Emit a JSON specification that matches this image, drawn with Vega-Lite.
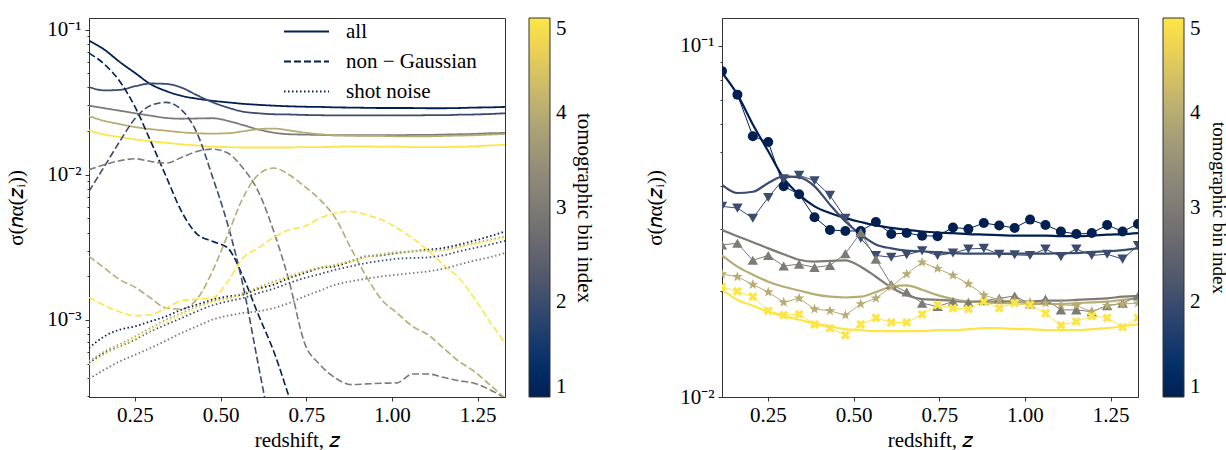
{
"$schema": "https://vega.github.io/schema/vega-lite/v6.json",
"background": "white",
"padding": {"left": 5, "top": 17, "right": 5, "bottom": 5},
"config": {
  "font": "Liberation Serif",
  "view": {"stroke": "#333", "strokeWidth": 1},
  "axis": {"labelFont": "Liberation Serif", "labelFontSize": 21, "titleFont": "Liberation Serif", "titleFontSize": 21, "titleFontWeight": "normal", "labelColor": "#000", "titleColor": "#000", "domainColor": "#333", "tickColor": "#333", "grid": false},
  "legend": {"labelFont": "Liberation Serif", "titleFont": "Liberation Serif", "labelColor": "#000", "titleColor": "#000"}
},
"datasets": {
"all": [
{"z":0.116,"s":0.0838,"b":1,"t":"all"},{"z":0.161,"s":0.0726,"b":1,"t":"all"},{"z":0.206,"s":0.0597,"b":1,"t":"all"},{"z":0.251,"s":0.0501,"b":1,"t":"all"},{"z":0.296,"s":0.0420,"b":1,"t":"all"},{"z":0.341,"s":0.0377,"b":1,"t":"all"},{"z":0.386,"s":0.0349,"b":1,"t":"all"},{"z":0.431,"s":0.0334,"b":1,"t":"all"},{"z":0.476,"s":0.0323,"b":1,"t":"all"},{"z":0.521,"s":0.0315,"b":1,"t":"all"},{"z":0.565,"s":0.0308,"b":1,"t":"all"},{"z":0.610,"s":0.0303,"b":1,"t":"all"},{"z":0.655,"s":0.0299,"b":1,"t":"all"},{"z":0.700,"s":0.0296,"b":1,"t":"all"},{"z":0.745,"s":0.0294,"b":1,"t":"all"},{"z":0.790,"s":0.0293,"b":1,"t":"all"},{"z":0.835,"s":0.0291,"b":1,"t":"all"},{"z":0.880,"s":0.0290,"b":1,"t":"all"},{"z":0.925,"s":0.0289,"b":1,"t":"all"},{"z":0.970,"s":0.0288,"b":1,"t":"all"},{"z":1.015,"s":0.0288,"b":1,"t":"all"},{"z":1.060,"s":0.0288,"b":1,"t":"all"},{"z":1.105,"s":0.0287,"b":1,"t":"all"},{"z":1.150,"s":0.0287,"b":1,"t":"all"},{"z":1.195,"s":0.0288,"b":1,"t":"all"},{"z":1.240,"s":0.0290,"b":1,"t":"all"},{"z":1.285,"s":0.0291,"b":1,"t":"all"},{"z":1.330,"s":0.0293,"b":1,"t":"all"},
{"z":0.116,"s":0.0402,"b":2,"t":"all"},{"z":0.161,"s":0.0381,"b":2,"t":"all"},{"z":0.206,"s":0.0384,"b":2,"t":"all"},{"z":0.251,"s":0.0407,"b":2,"t":"all"},{"z":0.296,"s":0.0425,"b":2,"t":"all"},{"z":0.341,"s":0.0422,"b":2,"t":"all"},{"z":0.386,"s":0.0398,"b":2,"t":"all"},{"z":0.431,"s":0.0353,"b":2,"t":"all"},{"z":0.476,"s":0.0316,"b":2,"t":"all"},{"z":0.521,"s":0.0290,"b":2,"t":"all"},{"z":0.565,"s":0.0272,"b":2,"t":"all"},{"z":0.610,"s":0.0265,"b":2,"t":"all"},{"z":0.655,"s":0.0261,"b":2,"t":"all"},{"z":0.700,"s":0.0260,"b":2,"t":"all"},{"z":0.745,"s":0.0258,"b":2,"t":"all"},{"z":0.790,"s":0.0257,"b":2,"t":"all"},{"z":0.835,"s":0.0256,"b":2,"t":"all"},{"z":0.880,"s":0.0256,"b":2,"t":"all"},{"z":0.925,"s":0.0256,"b":2,"t":"all"},{"z":0.970,"s":0.0256,"b":2,"t":"all"},{"z":1.015,"s":0.0256,"b":2,"t":"all"},{"z":1.060,"s":0.0256,"b":2,"t":"all"},{"z":1.105,"s":0.0257,"b":2,"t":"all"},{"z":1.150,"s":0.0257,"b":2,"t":"all"},{"z":1.195,"s":0.0259,"b":2,"t":"all"},{"z":1.240,"s":0.0260,"b":2,"t":"all"},{"z":1.285,"s":0.0262,"b":2,"t":"all"},{"z":1.330,"s":0.0265,"b":2,"t":"all"},
{"z":0.116,"s":0.0299,"b":3,"t":"all"},{"z":0.161,"s":0.0287,"b":3,"t":"all"},{"z":0.206,"s":0.0276,"b":3,"t":"all"},{"z":0.251,"s":0.0265,"b":3,"t":"all"},{"z":0.296,"s":0.0255,"b":3,"t":"all"},{"z":0.341,"s":0.0246,"b":3,"t":"all"},{"z":0.386,"s":0.0243,"b":3,"t":"all"},{"z":0.431,"s":0.0244,"b":3,"t":"all"},{"z":0.476,"s":0.0245,"b":3,"t":"all"},{"z":0.521,"s":0.0235,"b":3,"t":"all"},{"z":0.565,"s":0.0220,"b":3,"t":"all"},{"z":0.610,"s":0.0205,"b":3,"t":"all"},{"z":0.655,"s":0.0195,"b":3,"t":"all"},{"z":0.700,"s":0.0190,"b":3,"t":"all"},{"z":0.745,"s":0.0189,"b":3,"t":"all"},{"z":0.790,"s":0.0188,"b":3,"t":"all"},{"z":0.835,"s":0.0187,"b":3,"t":"all"},{"z":0.880,"s":0.0187,"b":3,"t":"all"},{"z":0.925,"s":0.0187,"b":3,"t":"all"},{"z":0.970,"s":0.0187,"b":3,"t":"all"},{"z":1.015,"s":0.0187,"b":3,"t":"all"},{"z":1.060,"s":0.0188,"b":3,"t":"all"},{"z":1.105,"s":0.0188,"b":3,"t":"all"},{"z":1.150,"s":0.0189,"b":3,"t":"all"},{"z":1.195,"s":0.0190,"b":3,"t":"all"},{"z":1.240,"s":0.0191,"b":3,"t":"all"},{"z":1.285,"s":0.0193,"b":3,"t":"all"},{"z":1.330,"s":0.0194,"b":3,"t":"all"},
{"z":0.116,"s":0.0253,"b":4,"t":"all"},{"z":0.161,"s":0.0235,"b":4,"t":"all"},{"z":0.206,"s":0.0223,"b":4,"t":"all"},{"z":0.251,"s":0.0213,"b":4,"t":"all"},{"z":0.296,"s":0.0206,"b":4,"t":"all"},{"z":0.341,"s":0.0201,"b":4,"t":"all"},{"z":0.386,"s":0.0196,"b":4,"t":"all"},{"z":0.431,"s":0.0193,"b":4,"t":"all"},{"z":0.476,"s":0.0192,"b":4,"t":"all"},{"z":0.521,"s":0.0193,"b":4,"t":"all"},{"z":0.565,"s":0.0199,"b":4,"t":"all"},{"z":0.610,"s":0.0206,"b":4,"t":"all"},{"z":0.655,"s":0.0208,"b":4,"t":"all"},{"z":0.700,"s":0.0202,"b":4,"t":"all"},{"z":0.745,"s":0.0195,"b":4,"t":"all"},{"z":0.790,"s":0.0190,"b":4,"t":"all"},{"z":0.835,"s":0.0187,"b":4,"t":"all"},{"z":0.880,"s":0.0186,"b":4,"t":"all"},{"z":0.925,"s":0.0185,"b":4,"t":"all"},{"z":0.970,"s":0.0185,"b":4,"t":"all"},{"z":1.015,"s":0.0184,"b":4,"t":"all"},{"z":1.060,"s":0.0184,"b":4,"t":"all"},{"z":1.105,"s":0.0184,"b":4,"t":"all"},{"z":1.150,"s":0.0185,"b":4,"t":"all"},{"z":1.195,"s":0.0186,"b":4,"t":"all"},{"z":1.240,"s":0.0187,"b":4,"t":"all"},{"z":1.285,"s":0.0189,"b":4,"t":"all"},{"z":1.330,"s":0.0191,"b":4,"t":"all"},
{"z":0.116,"s":0.0202,"b":5,"t":"all"},{"z":0.161,"s":0.0189,"b":5,"t":"all"},{"z":0.206,"s":0.0182,"b":5,"t":"all"},{"z":0.251,"s":0.0175,"b":5,"t":"all"},{"z":0.296,"s":0.0170,"b":5,"t":"all"},{"z":0.341,"s":0.0166,"b":5,"t":"all"},{"z":0.386,"s":0.0162,"b":5,"t":"all"},{"z":0.431,"s":0.0159,"b":5,"t":"all"},{"z":0.476,"s":0.0156,"b":5,"t":"all"},{"z":0.521,"s":0.0155,"b":5,"t":"all"},{"z":0.565,"s":0.0154,"b":5,"t":"all"},{"z":0.610,"s":0.0154,"b":5,"t":"all"},{"z":0.655,"s":0.0154,"b":5,"t":"all"},{"z":0.700,"s":0.0154,"b":5,"t":"all"},{"z":0.745,"s":0.0155,"b":5,"t":"all"},{"z":0.790,"s":0.0155,"b":5,"t":"all"},{"z":0.835,"s":0.0156,"b":5,"t":"all"},{"z":0.880,"s":0.0157,"b":5,"t":"all"},{"z":0.925,"s":0.0157,"b":5,"t":"all"},{"z":0.970,"s":0.0156,"b":5,"t":"all"},{"z":1.015,"s":0.0156,"b":5,"t":"all"},{"z":1.060,"s":0.0155,"b":5,"t":"all"},{"z":1.105,"s":0.0155,"b":5,"t":"all"},{"z":1.150,"s":0.0155,"b":5,"t":"all"},{"z":1.195,"s":0.0156,"b":5,"t":"all"},{"z":1.240,"s":0.0157,"b":5,"t":"all"},{"z":1.285,"s":0.0159,"b":5,"t":"all"},{"z":1.330,"s":0.0161,"b":5,"t":"all"}
],
"ng": [
{"z":0.116,"s":0.0688,"b":1,"t":"non − Gaussian"},{"z":0.161,"s":0.0577,"b":1,"t":"non − Gaussian"},{"z":0.206,"s":0.0439,"b":1,"t":"non − Gaussian"},{"z":0.251,"s":0.0291,"b":1,"t":"non − Gaussian"},{"z":0.296,"s":0.0170,"b":1,"t":"non − Gaussian"},{"z":0.341,"s":0.00974,"b":1,"t":"non − Gaussian"},{"z":0.386,"s":0.00559,"b":1,"t":"non − Gaussian"},{"z":0.431,"s":0.00391,"b":1,"t":"non − Gaussian"},{"z":0.476,"s":0.00348,"b":1,"t":"non − Gaussian"},{"z":0.521,"s":0.00313,"b":1,"t":"non − Gaussian"},{"z":0.565,"s":0.00200,"b":1,"t":"non − Gaussian"},{"z":0.610,"s":0.00109,"b":1,"t":"non − Gaussian"},{"z":0.655,"s":0.000609,"b":1,"t":"non − Gaussian"},{"z":0.700,"s":0.000295,"b":1,"t":"non − Gaussian"},{"z":0.745,"s":0.00014,"b":1,"t":"non − Gaussian"},
{"z":0.116,"s":0.00768,"b":2,"t":"non − Gaussian"},{"z":0.161,"s":0.01141,"b":2,"t":"non − Gaussian"},{"z":0.206,"s":0.0170,"b":2,"t":"non − Gaussian"},{"z":0.251,"s":0.0245,"b":2,"t":"non − Gaussian"},{"z":0.296,"s":0.0300,"b":2,"t":"non − Gaussian"},{"z":0.341,"s":0.0315,"b":2,"t":"non − Gaussian"},{"z":0.386,"s":0.0280,"b":2,"t":"non − Gaussian"},{"z":0.431,"s":0.0194,"b":2,"t":"non − Gaussian"},{"z":0.476,"s":0.00974,"b":2,"t":"non − Gaussian"},{"z":0.521,"s":0.00453,"b":2,"t":"non − Gaussian"},{"z":0.565,"s":0.00175,"b":2,"t":"non − Gaussian"},{"z":0.610,"s":0.000493,"b":2,"t":"non − Gaussian"},{"z":0.655,"s":0.00014,"b":2,"t":"non − Gaussian"},
{"z":0.116,"s":0.01083,"b":3,"t":"non − Gaussian"},{"z":0.161,"s":0.01172,"b":3,"t":"non − Gaussian"},{"z":0.206,"s":0.01249,"b":3,"t":"non − Gaussian"},{"z":0.251,"s":0.01288,"b":3,"t":"non − Gaussian"},{"z":0.296,"s":0.01235,"b":3,"t":"non − Gaussian"},{"z":0.341,"s":0.01203,"b":3,"t":"non − Gaussian"},{"z":0.386,"s":0.01316,"b":3,"t":"non − Gaussian"},{"z":0.431,"s":0.01447,"b":3,"t":"non − Gaussian"},{"z":0.476,"s":0.01502,"b":3,"t":"non − Gaussian"},{"z":0.521,"s":0.01410,"b":3,"t":"non − Gaussian"},{"z":0.565,"s":0.01112,"b":3,"t":"non − Gaussian"},{"z":0.610,"s":0.00768,"b":3,"t":"non − Gaussian"},{"z":0.655,"s":0.00408,"b":3,"t":"non − Gaussian"},{"z":0.700,"s":0.00185,"b":3,"t":"non − Gaussian"},{"z":0.745,"s":0.000695,"b":3,"t":"non − Gaussian"},{"z":0.790,"s":0.000493,"b":3,"t":"non − Gaussian"},{"z":0.835,"s":0.000399,"b":3,"t":"non − Gaussian"},{"z":0.880,"s":0.000359,"b":3,"t":"non − Gaussian"},{"z":0.925,"s":0.000363,"b":3,"t":"non − Gaussian"},{"z":0.970,"s":0.000367,"b":3,"t":"non − Gaussian"},{"z":1.015,"s":0.000369,"b":3,"t":"non − Gaussian"},{"z":1.060,"s":0.000425,"b":3,"t":"non − Gaussian"},{"z":1.105,"s":0.000425,"b":3,"t":"non − Gaussian"},{"z":1.150,"s":0.000403,"b":3,"t":"non − Gaussian"},{"z":1.195,"s":0.000382,"b":3,"t":"non − Gaussian"},{"z":1.240,"s":0.000367,"b":3,"t":"non − Gaussian"},{"z":1.285,"s":0.000332,"b":3,"t":"non − Gaussian"},{"z":1.330,"s":0.000290,"b":3,"t":"non − Gaussian"},
{"z":0.116,"s":0.002742,"b":4,"t":"non − Gaussian"},{"z":0.161,"s":0.002279,"b":4,"t":"non − Gaussian"},{"z":0.206,"s":0.001895,"b":4,"t":"non − Gaussian"},{"z":0.251,"s":0.001678,"b":4,"t":"non − Gaussian"},{"z":0.296,"s":0.001417,"b":4,"t":"non − Gaussian"},{"z":0.341,"s":0.001209,"b":4,"t":"non − Gaussian"},{"z":0.386,"s":0.001190,"b":4,"t":"non − Gaussian"},{"z":0.431,"s":0.00139,"b":4,"t":"non − Gaussian"},{"z":0.476,"s":0.00216,"b":4,"t":"non − Gaussian"},{"z":0.521,"s":0.003866,"b":4,"t":"non − Gaussian"},{"z":0.565,"s":0.006911,"b":4,"t":"non − Gaussian"},{"z":0.610,"s":0.0100,"b":4,"t":"non − Gaussian"},{"z":0.655,"s":0.01112,"b":4,"t":"non − Gaussian"},{"z":0.700,"s":0.0100,"b":4,"t":"non − Gaussian"},{"z":0.745,"s":0.00831,"b":4,"t":"non − Gaussian"},{"z":0.790,"s":0.00673,"b":4,"t":"non − Gaussian"},{"z":0.835,"s":0.00503,"b":4,"t":"non − Gaussian"},{"z":0.880,"s":0.00313,"b":4,"t":"non − Gaussian"},{"z":0.925,"s":0.00200,"b":4,"t":"non − Gaussian"},{"z":0.970,"s":0.00138,"b":4,"t":"non − Gaussian"},{"z":1.015,"s":0.001117,"b":4,"t":"non − Gaussian"},{"z":1.060,"s":0.000904,"b":4,"t":"non − Gaussian"},{"z":1.105,"s":0.000793,"b":4,"t":"non − Gaussian"},{"z":1.150,"s":0.000642,"b":4,"t":"non − Gaussian"},{"z":1.195,"s":0.000520,"b":4,"t":"non − Gaussian"},{"z":1.240,"s":0.000443,"b":4,"t":"non − Gaussian"},{"z":1.285,"s":0.000359,"b":4,"t":"non − Gaussian"},{"z":1.330,"s":0.000290,"b":4,"t":"non − Gaussian"},
{"z":0.116,"s":0.001432,"b":5,"t":"non − Gaussian"},{"z":0.161,"s":0.001262,"b":5,"t":"non − Gaussian"},{"z":0.206,"s":0.001135,"b":5,"t":"non − Gaussian"},{"z":0.251,"s":0.001071,"b":5,"t":"non − Gaussian"},{"z":0.296,"s":0.001088,"b":5,"t":"non − Gaussian"},{"z":0.341,"s":0.001209,"b":5,"t":"non − Gaussian"},{"z":0.386,"s":0.001358,"b":5,"t":"non − Gaussian"},{"z":0.431,"s":0.001395,"b":5,"t":"non − Gaussian"},{"z":0.476,"s":0.001417,"b":5,"t":"non − Gaussian"},{"z":0.521,"s":0.001845,"b":5,"t":"non − Gaussian"},{"z":0.565,"s":0.002671,"b":5,"t":"non − Gaussian"},{"z":0.610,"s":0.003130,"b":5,"t":"non − Gaussian"},{"z":0.655,"s":0.003705,"b":5,"t":"non − Gaussian"},{"z":0.700,"s":0.004183,"b":5,"t":"non − Gaussian"},{"z":0.745,"s":0.004411,"b":5,"t":"non − Gaussian"},{"z":0.790,"s":0.00503,"b":5,"t":"non − Gaussian"},{"z":0.835,"s":0.00545,"b":5,"t":"non − Gaussian"},{"z":0.880,"s":0.00559,"b":5,"t":"non − Gaussian"},{"z":0.925,"s":0.00530,"b":5,"t":"non − Gaussian"},{"z":0.970,"s":0.00490,"b":5,"t":"non − Gaussian"},{"z":1.015,"s":0.00430,"b":5,"t":"non − Gaussian"},{"z":1.060,"s":0.00366,"b":5,"t":"non − Gaussian"},{"z":1.105,"s":0.00302,"b":5,"t":"non − Gaussian"},{"z":1.150,"s":0.00240,"b":5,"t":"non − Gaussian"},{"z":1.195,"s":0.00195,"b":5,"t":"non − Gaussian"},{"z":1.240,"s":0.001417,"b":5,"t":"non − Gaussian"},{"z":1.285,"s":0.000979,"b":5,"t":"non − Gaussian"},{"z":1.330,"s":0.000695,"b":5,"t":"non − Gaussian"}
],
"sn": [
{"z":0.116,"s":0.000642,"b":1,"t":"shot noise"},{"z":0.161,"s":0.000772,"b":1,"t":"shot noise"},{"z":0.206,"s":0.000858,"b":1,"t":"shot noise"},{"z":0.251,"s":0.000905,"b":1,"t":"shot noise"},{"z":0.296,"s":0.000979,"b":1,"t":"shot noise"},{"z":0.341,"s":0.001060,"b":1,"t":"shot noise"},{"z":0.386,"s":0.001178,"b":1,"t":"shot noise"},{"z":0.431,"s":0.001275,"b":1,"t":"shot noise"},{"z":0.476,"s":0.001380,"b":1,"t":"shot noise"},{"z":0.521,"s":0.001454,"b":1,"t":"shot noise"},{"z":0.565,"s":0.001493,"b":1,"t":"shot noise"},{"z":0.610,"s":0.001642,"b":1,"t":"shot noise"},{"z":0.655,"s":0.001750,"b":1,"t":"shot noise"},{"z":0.700,"s":0.001945,"b":1,"t":"shot noise"},{"z":0.745,"s":0.002104,"b":1,"t":"shot noise"},{"z":0.790,"s":0.002279,"b":1,"t":"shot noise"},{"z":0.835,"s":0.002340,"b":1,"t":"shot noise"},{"z":0.880,"s":0.002533,"b":1,"t":"shot noise"},{"z":0.925,"s":0.002742,"b":1,"t":"shot noise"},{"z":0.970,"s":0.002786,"b":1,"t":"shot noise"},{"z":1.015,"s":0.002890,"b":1,"t":"shot noise"},{"z":1.060,"s":0.002968,"b":1,"t":"shot noise"},{"z":1.105,"s":0.003047,"b":1,"t":"shot noise"},{"z":1.150,"s":0.003129,"b":1,"t":"shot noise"},{"z":1.195,"s":0.003299,"b":1,"t":"shot noise"},{"z":1.240,"s":0.003514,"b":1,"t":"shot noise"},{"z":1.285,"s":0.003764,"b":1,"t":"shot noise"},{"z":1.330,"s":0.004075,"b":1,"t":"shot noise"},
{"z":0.116,"s":0.000506,"b":2,"t":"shot noise"},{"z":0.161,"s":0.000593,"b":2,"t":"shot noise"},{"z":0.206,"s":0.000659,"b":2,"t":"shot noise"},{"z":0.251,"s":0.000733,"b":2,"t":"shot noise"},{"z":0.296,"s":0.000836,"b":2,"t":"shot noise"},{"z":0.341,"s":0.000929,"b":2,"t":"shot noise"},{"z":0.386,"s":0.001032,"b":2,"t":"shot noise"},{"z":0.431,"s":0.001147,"b":2,"t":"shot noise"},{"z":0.476,"s":0.001262,"b":2,"t":"shot noise"},{"z":0.521,"s":0.001344,"b":2,"t":"shot noise"},{"z":0.565,"s":0.001417,"b":2,"t":"shot noise"},{"z":0.610,"s":0.001533,"b":2,"t":"shot noise"},{"z":0.655,"s":0.001642,"b":2,"t":"shot noise"},{"z":0.700,"s":0.001797,"b":2,"t":"shot noise"},{"z":0.745,"s":0.001945,"b":2,"t":"shot noise"},{"z":0.790,"s":0.002071,"b":2,"t":"shot noise"},{"z":0.835,"s":0.002219,"b":2,"t":"shot noise"},{"z":0.880,"s":0.002340,"b":2,"t":"shot noise"},{"z":0.925,"s":0.002467,"b":2,"t":"shot noise"},{"z":0.970,"s":0.002560,"b":2,"t":"shot noise"},{"z":1.015,"s":0.002642,"b":2,"t":"shot noise"},{"z":1.060,"s":0.002670,"b":2,"t":"shot noise"},{"z":1.105,"s":0.002699,"b":2,"t":"shot noise"},{"z":1.150,"s":0.002786,"b":2,"t":"shot noise"},{"z":1.195,"s":0.002968,"b":2,"t":"shot noise"},{"z":1.240,"s":0.003129,"b":2,"t":"shot noise"},{"z":1.285,"s":0.003299,"b":2,"t":"shot noise"},{"z":1.330,"s":0.003514,"b":2,"t":"shot noise"},
{"z":0.116,"s":0.000393,"b":3,"t":"shot noise"},{"z":0.161,"s":0.000455,"b":3,"t":"shot noise"},{"z":0.206,"s":0.000519,"b":3,"t":"shot noise"},{"z":0.251,"s":0.000577,"b":3,"t":"shot noise"},{"z":0.296,"s":0.000642,"b":3,"t":"shot noise"},{"z":0.341,"s":0.000721,"b":3,"t":"shot noise"},{"z":0.386,"s":0.000814,"b":3,"t":"shot noise"},{"z":0.431,"s":0.000905,"b":3,"t":"shot noise"},{"z":0.476,"s":0.001005,"b":3,"t":"shot noise"},{"z":0.521,"s":0.001071,"b":3,"t":"shot noise"},{"z":0.565,"s":0.001117,"b":3,"t":"shot noise"},{"z":0.610,"s":0.001147,"b":3,"t":"shot noise"},{"z":0.655,"s":0.001209,"b":3,"t":"shot noise"},{"z":0.700,"s":0.001309,"b":3,"t":"shot noise"},{"z":0.745,"s":0.001454,"b":3,"t":"shot noise"},{"z":0.790,"s":0.001591,"b":3,"t":"shot noise"},{"z":0.835,"s":0.001750,"b":3,"t":"shot noise"},{"z":0.880,"s":0.001845,"b":3,"t":"shot noise"},{"z":0.925,"s":0.001924,"b":3,"t":"shot noise"},{"z":0.970,"s":0.001996,"b":3,"t":"shot noise"},{"z":1.015,"s":0.002049,"b":3,"t":"shot noise"},{"z":1.060,"s":0.002104,"b":3,"t":"shot noise"},{"z":1.105,"s":0.002161,"b":3,"t":"shot noise"},{"z":1.150,"s":0.002254,"b":3,"t":"shot noise"},{"z":1.195,"s":0.002402,"b":3,"t":"shot noise"},{"z":1.240,"s":0.002560,"b":3,"t":"shot noise"},{"z":1.285,"s":0.002699,"b":3,"t":"shot noise"},{"z":1.330,"s":0.002890,"b":3,"t":"shot noise"},
{"z":0.116,"s":0.000519,"b":4,"t":"shot noise"},{"z":0.161,"s":0.000609,"b":4,"t":"shot noise"},{"z":0.206,"s":0.000684,"b":4,"t":"shot noise"},{"z":0.251,"s":0.000772,"b":4,"t":"shot noise"},{"z":0.296,"s":0.000881,"b":4,"t":"shot noise"},{"z":0.341,"s":0.001005,"b":4,"t":"shot noise"},{"z":0.386,"s":0.001117,"b":4,"t":"shot noise"},{"z":0.431,"s":0.001242,"b":4,"t":"shot noise"},{"z":0.476,"s":0.001344,"b":4,"t":"shot noise"},{"z":0.521,"s":0.001417,"b":4,"t":"shot noise"},{"z":0.565,"s":0.001533,"b":4,"t":"shot noise"},{"z":0.610,"s":0.001678,"b":4,"t":"shot noise"},{"z":0.655,"s":0.001845,"b":4,"t":"shot noise"},{"z":0.700,"s":0.001996,"b":4,"t":"shot noise"},{"z":0.745,"s":0.002161,"b":4,"t":"shot noise"},{"z":0.790,"s":0.002303,"b":4,"t":"shot noise"},{"z":0.835,"s":0.002402,"b":4,"t":"shot noise"},{"z":0.880,"s":0.002560,"b":4,"t":"shot noise"},{"z":0.925,"s":0.002742,"b":4,"t":"shot noise"},{"z":0.970,"s":0.002845,"b":4,"t":"shot noise"},{"z":1.015,"s":0.002936,"b":4,"t":"shot noise"},{"z":1.060,"s":0.002968,"b":4,"t":"shot noise"},{"z":1.105,"s":0.002999,"b":4,"t":"shot noise"},{"z":1.150,"s":0.003047,"b":4,"t":"shot noise"},{"z":1.195,"s":0.003213,"b":4,"t":"shot noise"},{"z":1.240,"s":0.003387,"b":4,"t":"shot noise"},{"z":1.285,"s":0.003571,"b":4,"t":"shot noise"},{"z":1.330,"s":0.003764,"b":4,"t":"shot noise"},
{"z":0.116,"s":0.000493,"b":5,"t":"shot noise"},{"z":0.161,"s":0.000577,"b":5,"t":"shot noise"},{"z":0.206,"s":0.000659,"b":5,"t":"shot noise"},{"z":0.251,"s":0.000744,"b":5,"t":"shot noise"},{"z":0.296,"s":0.000845,"b":5,"t":"shot noise"},{"z":0.341,"s":0.000969,"b":5,"t":"shot noise"},{"z":0.386,"s":0.001088,"b":5,"t":"shot noise"},{"z":0.431,"s":0.001209,"b":5,"t":"shot noise"},{"z":0.476,"s":0.001330,"b":5,"t":"shot noise"},{"z":0.521,"s":0.001402,"b":5,"t":"shot noise"},{"z":0.565,"s":0.001493,"b":5,"t":"shot noise"},{"z":0.610,"s":0.001642,"b":5,"t":"shot noise"},{"z":0.655,"s":0.001797,"b":5,"t":"shot noise"},{"z":0.700,"s":0.001965,"b":5,"t":"shot noise"},{"z":0.745,"s":0.002138,"b":5,"t":"shot noise"},{"z":0.790,"s":0.002279,"b":5,"t":"shot noise"},{"z":0.835,"s":0.002377,"b":5,"t":"shot noise"},{"z":0.880,"s":0.002533,"b":5,"t":"shot noise"},{"z":0.925,"s":0.002699,"b":5,"t":"shot noise"},{"z":0.970,"s":0.002786,"b":5,"t":"shot noise"},{"z":1.015,"s":0.002875,"b":5,"t":"shot noise"},{"z":1.060,"s":0.002968,"b":5,"t":"shot noise"},{"z":1.105,"s":0.002968,"b":5,"t":"shot noise"},{"z":1.150,"s":0.002999,"b":5,"t":"shot noise"},{"z":1.195,"s":0.003162,"b":5,"t":"shot noise"},{"z":1.240,"s":0.003334,"b":5,"t":"shot noise"},{"z":1.285,"s":0.003514,"b":5,"t":"shot noise"},{"z":1.330,"s":0.003705,"b":5,"t":"shot noise"}
],
"mk": [
{"z":0.116,"s":0.0847,"b":1},{"z":0.161,"s":0.0726,"b":1},{"z":0.206,"s":0.0553,"b":1},{"z":0.251,"s":0.0532,"b":1},{"z":0.296,"s":0.0398,"b":1},{"z":0.341,"s":0.0378,"b":1},{"z":0.386,"s":0.0325,"b":1},{"z":0.431,"s":0.0299,"b":1},{"z":0.476,"s":0.0297,"b":1},{"z":0.521,"s":0.0297,"b":1},{"z":0.565,"s":0.0315,"b":1},{"z":0.610,"s":0.0291,"b":1},{"z":0.655,"s":0.0293,"b":1},{"z":0.700,"s":0.0288,"b":1},{"z":0.745,"s":0.0287,"b":1},{"z":0.790,"s":0.0304,"b":1},{"z":0.835,"s":0.0301,"b":1},{"z":0.880,"s":0.0313,"b":1},{"z":0.925,"s":0.0308,"b":1},{"z":0.970,"s":0.0303,"b":1},{"z":1.015,"s":0.0320,"b":1},{"z":1.060,"s":0.0309,"b":1},{"z":1.105,"s":0.0296,"b":1},{"z":1.150,"s":0.0291,"b":1},{"z":1.195,"s":0.0293,"b":1},{"z":1.240,"s":0.0309,"b":1},{"z":1.285,"s":0.0296,"b":1},{"z":1.330,"s":0.0311,"b":1},
{"z":0.116,"s":0.0349,"b":2},{"z":0.161,"s":0.0345,"b":2},{"z":0.206,"s":0.0323,"b":2},{"z":0.251,"s":0.0370,"b":2},{"z":0.296,"s":0.0418,"b":2},{"z":0.341,"s":0.0428,"b":2},{"z":0.386,"s":0.0413,"b":2},{"z":0.431,"s":0.0375,"b":2},{"z":0.476,"s":0.0323,"b":2},{"z":0.521,"s":0.0283,"b":2},{"z":0.565,"s":0.0253,"b":2},{"z":0.610,"s":0.0250,"b":2},{"z":0.655,"s":0.0254,"b":2},{"z":0.700,"s":0.0261,"b":2},{"z":0.745,"s":0.0253,"b":2},{"z":0.790,"s":0.0257,"b":2},{"z":0.835,"s":0.0264,"b":2},{"z":0.880,"s":0.0265,"b":2},{"z":0.925,"s":0.0255,"b":2},{"z":0.970,"s":0.0254,"b":2},{"z":1.015,"s":0.0253,"b":2},{"z":1.060,"s":0.0264,"b":2},{"z":1.105,"s":0.0251,"b":2},{"z":1.150,"s":0.0264,"b":2},{"z":1.195,"s":0.0253,"b":2},{"z":1.240,"s":0.0255,"b":2},{"z":1.285,"s":0.0247,"b":2},{"z":1.330,"s":0.0270,"b":2},
{"z":0.116,"s":0.0271,"b":3},{"z":0.161,"s":0.0274,"b":3},{"z":0.206,"s":0.0245,"b":3},{"z":0.251,"s":0.0253,"b":3},{"z":0.296,"s":0.0236,"b":3},{"z":0.341,"s":0.0239,"b":3},{"z":0.386,"s":0.0234,"b":3},{"z":0.431,"s":0.0237,"b":3},{"z":0.476,"s":0.0256,"b":3},{"z":0.521,"s":0.0294,"b":3},{"z":0.565,"s":0.0247,"b":3},{"z":0.610,"s":0.0209,"b":3},{"z":0.655,"s":0.0199,"b":3},{"z":0.700,"s":0.0185,"b":3},{"z":0.745,"s":0.0181,"b":3},{"z":0.790,"s":0.0187,"b":3},{"z":0.835,"s":0.0186,"b":3},{"z":0.880,"s":0.0188,"b":3},{"z":0.925,"s":0.0191,"b":3},{"z":0.970,"s":0.0194,"b":3},{"z":1.015,"s":0.0184,"b":3},{"z":1.060,"s":0.0190,"b":3},{"z":1.105,"s":0.0177,"b":3},{"z":1.150,"s":0.0177,"b":3},{"z":1.195,"s":0.0175,"b":3},{"z":1.240,"s":0.0182,"b":3},{"z":1.285,"s":0.0185,"b":3},{"z":1.330,"s":0.0194,"b":3},
{"z":0.116,"s":0.0224,"b":4},{"z":0.161,"s":0.0220,"b":4},{"z":0.206,"s":0.0209,"b":4},{"z":0.251,"s":0.0199,"b":4},{"z":0.296,"s":0.0186,"b":4},{"z":0.341,"s":0.0191,"b":4},{"z":0.386,"s":0.0178,"b":4},{"z":0.431,"s":0.0176,"b":4},{"z":0.476,"s":0.0171,"b":4},{"z":0.521,"s":0.0184,"b":4},{"z":0.565,"s":0.0191,"b":4},{"z":0.610,"s":0.0206,"b":4},{"z":0.655,"s":0.0224,"b":4},{"z":0.700,"s":0.0242,"b":4},{"z":0.745,"s":0.0232,"b":4},{"z":0.790,"s":0.0222,"b":4},{"z":0.835,"s":0.0210,"b":4},{"z":0.880,"s":0.0195,"b":4},{"z":0.925,"s":0.0189,"b":4},{"z":0.970,"s":0.0188,"b":4},{"z":1.015,"s":0.0186,"b":4},{"z":1.060,"s":0.0185,"b":4},{"z":1.105,"s":0.0183,"b":4},{"z":1.150,"s":0.0182,"b":4},{"z":1.195,"s":0.0175,"b":4},{"z":1.240,"s":0.0182,"b":4},{"z":1.285,"s":0.0184,"b":4},{"z":1.330,"s":0.0185,"b":4},
{"z":0.116,"s":0.0206,"b":5},{"z":0.161,"s":0.0200,"b":5},{"z":0.206,"s":0.0193,"b":5},{"z":0.251,"s":0.0176,"b":5},{"z":0.296,"s":0.0171,"b":5},{"z":0.341,"s":0.0172,"b":5},{"z":0.386,"s":0.0161,"b":5},{"z":0.431,"s":0.0157,"b":5},{"z":0.476,"s":0.0150,"b":5},{"z":0.521,"s":0.0161,"b":5},{"z":0.565,"s":0.0168,"b":5},{"z":0.610,"s":0.0163,"b":5},{"z":0.655,"s":0.0163,"b":5},{"z":0.700,"s":0.0172,"b":5},{"z":0.745,"s":0.0183,"b":5},{"z":0.790,"s":0.0179,"b":5},{"z":0.835,"s":0.0178,"b":5},{"z":0.880,"s":0.0187,"b":5},{"z":0.925,"s":0.0179,"b":5},{"z":0.970,"s":0.0185,"b":5},{"z":1.015,"s":0.0183,"b":5},{"z":1.060,"s":0.0173,"b":5},{"z":1.105,"s":0.0160,"b":5},{"z":1.150,"s":0.0164,"b":5},{"z":1.195,"s":0.0170,"b":5},{"z":1.240,"s":0.0168,"b":5},{"z":1.285,"s":0.0158,"b":5},{"z":1.330,"s":0.0168,"b":5}
]
},
"spacing": 217,
"bounds": "flush",
"resolve": {"scale": {"x": "independent", "y": "independent", "color": "independent"}, "legend": {"color": "independent"}},
"hconcat": [
{
  "width": 416, "height": 379,
  "encoding": {
    "x": {"field": "z", "type": "quantitative", "scale": {"domain": [0.116, 1.33], "nice": false, "zero": false},
      "axis": {"title": "redshift,  𝑧", "values": [0.25, 0.5, 0.75, 1.0, 1.25], "format": ".2f", "tickSize": 4, "labelPadding": 3, "titlePadding": 4}},
    "y": {"field": "s", "type": "quantitative", "scale": {"type": "log", "domain": [0.000295, 0.12], "nice": false},
      "axis": {"title": "σ(𝑛α(𝑧ᵢ))", "values": [0.0003,0.0004,0.0005,0.0006,0.0007,0.0008,0.0009,0.001,0.002,0.003,0.004,0.005,0.006,0.007,0.008,0.009,0.01,0.02,0.03,0.04,0.05,0.06,0.07,0.08,0.09,0.1],
        "labelExpr": "datum.value == 0.1 ? '10⁻¹' : datum.value == 0.01 ? '10⁻²' : datum.value == 0.001 ? '10⁻³' : ''",
        "tickSize": {"condition": {"test": "datum.value == 0.1 || datum.value == 0.01 || datum.value == 0.001", "value": 4}, "value": 2},
        "labelOverlap": false, "labelFlush": false, "labelPadding": 4, "titlePadding": 20}},
    "color": {"field": "b", "type": "quantitative", "scale": {"scheme": "cividis", "domain": [1, 5]},
      "legend": {"type": "gradient", "title": "tomographic bin index", "orient": "right", "offset": 24, "direction": "vertical", "gradientLength": 379, "gradientThickness": 21, "values": [1,2,3,4,5], "format": "d", "labelFontSize": 21, "labelOffset": 6, "titleOrient": "right", "titleAngle": 270, "titleAnchor": "middle", "titleBaseline": "top", "titleFontSize": 21, "titleFontWeight": "normal", "titlePadding": 28, "titleLimit": 600, "gradientStrokeColor": "#333", "gradientStrokeWidth": 1, "padding": 0}},
    "strokeDash": {"field": "t", "type": "nominal", "scale": {"domain": ["all", "non − Gaussian", "shot noise"], "range": [[1, 0], [7, 3], [1.5, 2.5]]},
      "legend": {"title": null, "orient": "none", "legendX": 205, "legendY": 1, "symbolType": "M-2,0H2", "symbolSize": 506, "symbolStrokeWidth": 1.8, "symbolStrokeColor": "#00224e", "symbolFillColor": "transparent", "labelFontSize": 21, "labelOffset": 27, "rowPadding": 7, "padding": 0}},
    "detail": {"field": "b", "type": "nominal"}
  },
  "layer": [
    {"data": {"name": "all"}, "mark": {"type": "line", "strokeWidth": 1.8, "interpolate": "monotone", "clip": true}},
    {"data": {"name": "ng"}, "mark": {"type": "line", "strokeWidth": 1.6, "interpolate": "monotone", "clip": true}},
    {"data": {"name": "sn"}, "mark": {"type": "line", "strokeWidth": 1.8, "interpolate": "monotone", "clip": true}}
  ]
},
{
  "width": 416, "height": 379,
  "encoding": {
    "x": {"field": "z", "type": "quantitative", "scale": {"domain": [0.116, 1.33], "nice": false, "zero": false},
      "axis": {"title": "redshift,  𝑧", "values": [0.25, 0.5, 0.75, 1.0, 1.25], "format": ".2f", "tickSize": 4, "labelPadding": 3, "titlePadding": 4}},
    "y": {"field": "s", "type": "quantitative", "scale": {"type": "log", "domain": [0.01, 0.12], "nice": false},
      "axis": {"title": "σ(𝑛α(𝑧ᵢ))", "values": [0.01,0.02,0.03,0.04,0.05,0.06,0.07,0.08,0.09,0.1],
        "labelExpr": "datum.value == 0.1 ? '10⁻¹' : datum.value == 0.01 ? '10⁻²' : ''",
        "tickSize": {"condition": {"test": "datum.value == 0.1 || datum.value == 0.01", "value": 4}, "value": 2},
        "labelOverlap": false, "labelFlush": false, "labelPadding": 4, "titlePadding": 14}},
    "detail": {"field": "b", "type": "nominal"}
  },
  "layer": [
    {"data": {"name": "all"}, "mark": {"type": "line", "strokeWidth": 2.2, "interpolate": "monotone", "clip": true},
      "encoding": {"color": {"field": "b", "type": "quantitative", "scale": {"scheme": "cividis", "domain": [1, 5]},
        "legend": {"type": "gradient", "title": "tomographic bin index", "orient": "right", "offset": 25, "direction": "vertical", "gradientLength": 379, "gradientThickness": 21, "values": [1,2,3,4,5], "format": "d", "labelFontSize": 21, "labelOffset": 6, "titleOrient": "right", "titleAngle": 270, "titleAnchor": "middle", "titleBaseline": "top", "titleFontSize": 19, "titleFontWeight": "normal", "titlePadding": 27, "titleLimit": 600, "gradientStrokeColor": "#333", "gradientStrokeWidth": 1, "padding": 0}}}},
    {"data": {"name": "mk"}, "mark": {"type": "line", "strokeWidth": 1, "clip": true},
      "encoding": {"color": {"field": "b", "type": "quantitative", "scale": {"scheme": "cividis", "domain": [1, 5]}}}},
    {"data": {"name": "mk"}, "transform": [{"filter": "datum.b == 1"}], "mark": {"type": "point", "shape": "circle", "size": 100, "filled": true, "fill": "#002051", "opacity": 1, "clip": true}},
    {"data": {"name": "mk"}, "transform": [{"filter": "datum.b == 2"}], "mark": {"type": "point", "shape": "triangle-down", "size": 110, "filled": true, "fill": "#3b4c6e", "opacity": 1, "clip": true}},
    {"data": {"name": "mk"}, "transform": [{"filter": "datum.b == 3"}], "mark": {"type": "point", "shape": "triangle-up", "size": 110, "filled": true, "fill": "#7e7b75", "opacity": 1, "clip": true}},
    {"data": {"name": "mk"}, "transform": [{"filter": "datum.b == 4"}], "mark": {"type": "point", "shape": "M0,-1L0.235,-0.324L0.951,-0.309L0.38,0.124L0.588,0.809L0,0.4L-0.588,0.809L-0.38,0.124L-0.951,-0.309L-0.235,-0.324Z", "size": 120, "filled": true, "fill": "#b7ac73", "opacity": 1, "clip": true}},
    {"data": {"name": "mk"}, "transform": [{"filter": "datum.b == 5"}], "mark": {"type": "point", "shape": "M-1,-0.5L-0.5,-1L0,-0.5L0.5,-1L1,-0.5L0.5,0L1,0.5L0.5,1L0,0.5L-0.5,1L-1,0.5L-0.5,0Z", "size": 85, "filled": true, "fill": "#fce647", "opacity": 1, "clip": true}}
  ]
}
]
}
